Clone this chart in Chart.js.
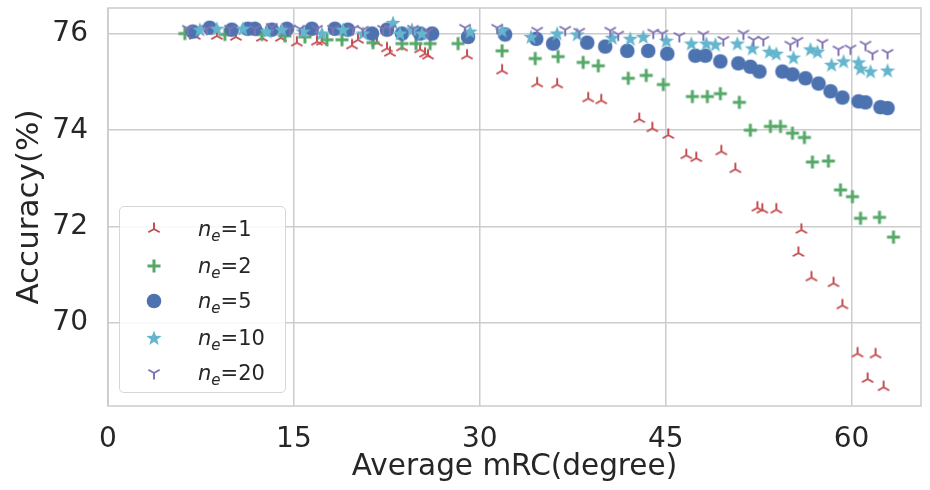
<!DOCTYPE html>
<html>
<head>
<meta charset="utf-8">
<script src="https://cdn.jsdelivr.net/npm/chart.js@4.4.0/dist/chart.umd.min.js"></script>
<style>
    html, body { margin: 0; padding: 0; background: #fff; }
    #wrap { position: relative; width: 930px; height: 490px; }
    #legend {
        position: absolute; left: 119px; top: 206px; width: 165px; height: 185px;
        border: 1px solid #d6d6d6; border-radius: 5px; background: rgba(255, 255, 255, 0.85);
        font-family: "DejaVu Sans", sans-serif; font-size: 21px; color: #262626;
    }
    .row { position: absolute; left: 0; height: 30px; width: 165px; }
    .row canvas { position: absolute; left: 24px; top: 5px; }
    .row span { position: absolute; left: 78px; top: 2px; line-height: 26px; white-space: nowrap; }
    .row sub { font-style: italic; font-size: 15px; vertical-align: -5px; line-height: 0; }
</style>
</head>
<body>
<div id="wrap">
    <canvas id="mrcChart" width="930" height="490"></canvas>
    <div id="legend"></div>
</div>
<script>
// ensemble sizes shown in the legend
const neValues = [1, 2, 5, 10, 20];

// n_e = 1
const mrcNe1 = [7.00, 8.78, 10.32, 12.42, 13.95, 15.24, 16.86, 17.26, 19.69, 20.17, 21.70, 22.51, 22.75, 23.72,
    25.18, 25.58, 25.82, 28.97, 31.80, 34.63, 36.24, 38.75, 39.80, 42.87, 43.92, 45.21, 46.66, 47.47, 49.49,
    50.62, 52.40, 52.80, 53.93, 55.95, 55.71, 56.76, 58.54, 59.26, 60.48, 61.93, 61.29, 62.58];
const accNe1 = [75.96, 75.96, 75.94, 75.92, 75.92, 75.82, 75.84, 75.84, 75.76, 75.88, 75.82, 75.70, 75.61, 75.72,
    75.68, 75.59, 75.55, 75.55, 75.24, 74.97, 74.95, 74.66, 74.62, 74.23, 74.04, 73.90, 73.48, 73.42, 73.56,
    73.19, 72.39, 72.35, 72.35, 71.93, 71.45, 70.94, 70.82, 70.36, 69.36, 69.34, 68.83, 68.66];

// n_e = 2
const mrcNe2 = [6.20, 9.43, 12.42, 14.27, 15.89, 17.67, 18.88, 21.38, 23.72, 24.85, 25.99, 28.25, 31.80, 34.47,
    36.32, 38.34, 39.56, 41.98, 43.43, 44.81, 47.15, 48.36, 49.41, 50.94, 51.83, 53.45, 54.26, 55.23, 56.19,
    56.84, 58.13, 59.10, 60.07, 60.72, 62.25, 63.38];
const accNe2 = [76.01, 75.99, 75.99, 75.96, 75.94, 75.88, 75.88, 75.82, 75.80, 75.80, 75.80, 75.80, 75.65, 75.49,
    75.53, 75.41, 75.34, 75.08, 75.14, 74.95, 74.70, 74.70, 74.76, 74.58, 74.00, 74.08, 74.08, 73.94, 73.85,
    73.34, 73.36, 72.76, 72.62, 72.17, 72.19, 71.78];

// n_e = 5
const mrcNe5 = [6.84, 8.21, 9.99, 11.28, 11.85, 13.22, 14.43, 16.45, 18.31, 19.36, 21.30, 22.51, 23.72, 25.18,
    26.15, 29.05, 32.04, 34.55, 35.92, 38.67, 40.12, 41.90, 43.59, 45.13, 47.39, 48.20, 49.41, 50.86, 51.83,
    52.56, 54.42, 55.23, 56.28, 57.33, 58.30, 59.26, 60.56, 61.12, 62.33, 62.90];
const accNe5 = [76.05, 76.13, 76.09, 76.11, 76.11, 76.09, 76.11, 76.11, 76.11, 76.09, 76.01, 76.09, 76.01, 76.01,
    76.01, 75.94, 75.99, 75.90, 75.80, 75.82, 75.74, 75.65, 75.65, 75.59, 75.55, 75.55, 75.43, 75.39, 75.32,
    75.22, 75.22, 75.16, 75.08, 74.97, 74.81, 74.68, 74.60, 74.58, 74.48, 74.46];

// n_e = 10
const mrcNe10 = [7.41, 8.78, 10.88, 12.82, 14.03, 15.73, 17.26, 18.96, 20.57, 23.00, 23.56, 24.53, 25.34, 29.22,
    31.80, 34.14, 36.24, 37.86, 40.69, 42.14, 43.19, 45.05, 47.07, 48.28, 49.01, 50.78, 51.99, 53.37, 53.93,
    55.31, 56.68, 57.25, 58.38, 59.35, 60.56, 60.72, 61.53, 62.90];
const accNe10 = [76.09, 76.11, 76.11, 76.05, 76.09, 76.05, 76.01, 76.09, 76.01, 76.23, 76.01, 76.09, 76.01, 76.05,
    76.07, 75.94, 76.01, 75.99, 75.92, 75.90, 75.94, 75.86, 75.80, 75.80, 75.78, 75.80, 75.70, 75.63, 75.59,
    75.51, 75.68, 75.63, 75.36, 75.43, 75.41, 75.28, 75.22, 75.24];

// n_e = 20
const mrcNe20 = [6.44, 7.97, 9.83, 11.85, 13.22, 14.68, 15.48, 16.86, 18.15, 19.77, 20.57, 22.19, 22.75, 24.61,
    25.82, 28.81, 31.40, 34.63, 36.89, 38.02, 40.53, 41.17, 44.00, 44.73, 46.10, 48.04, 49.65, 51.27, 52.08,
    52.88, 55.06, 55.63, 57.65, 58.94, 59.91, 61.12, 61.69, 62.90];
const accNe20 = [76.11, 76.11, 76.11, 76.11, 76.15, 76.11, 76.11, 76.11, 76.11, 76.11, 76.09, 76.11, 76.11, 76.11,
    76.05, 76.13, 76.13, 76.07, 76.09, 76.05, 76.07, 75.99, 76.03, 76.01, 75.96, 75.99, 75.88, 76.01, 75.88,
    75.88, 75.78, 75.86, 75.82, 75.68, 75.70, 75.78, 75.59, 75.61];

const xTicks = [0, 15, 30, 45, 60];
const yTicks = [70, 72, 74, 76];

const FONT = '"DejaVu Sans", sans-serif';
const TEXT = '#262626';
const GRID = '#cccccc';

// small canvases used as point styles (matplotlib-like markers)
function makeMarker(kind, color) {
    const c = document.createElement('canvas');
    c.width = 20; c.height = 20;
    const g = c.getContext('2d');
    const m = 10;
    g.strokeStyle = color;
    g.fillStyle = color;
    if (kind === 'tri_up' || kind === 'tri_down') {
        const r = 6.5;
        const d = kind === 'tri_up' ? -1 : 1;
        g.lineWidth = 2;
        g.beginPath();
        g.moveTo(m, m); g.lineTo(m, m + d * r);
        g.moveTo(m, m); g.lineTo(m - 0.866 * r, m - d * 0.5 * r);
        g.moveTo(m, m); g.lineTo(m + 0.866 * r, m - d * 0.5 * r);
        g.stroke();
    } else if (kind === 'plus') {
        g.lineWidth = 3;
        g.beginPath();
        g.moveTo(m - 6.5, m); g.lineTo(m + 6.5, m);
        g.moveTo(m, m - 6.5); g.lineTo(m, m + 6.5);
        g.stroke();
    } else if (kind === 'circle') {
        g.beginPath();
        g.arc(m, m, 7.3, 0, Math.PI * 2);
        g.fill();
    } else if (kind === 'star') {
        g.beginPath();
        for (let i = 0; i < 10; i++) {
            const r = i % 2 === 0 ? 8 : 3.3;
            const a = -Math.PI / 2 + i * Math.PI / 5;
            const px = m + r * Math.cos(a), py = m + 0.5 + r * Math.sin(a);
            if (i === 0) g.moveTo(px, py); else g.lineTo(px, py);
        }
        g.closePath();
        g.fill();
    }
    return c;
}

function toPoints(xs, ys) {
    return xs.map((x, i) => ({ x: x, y: ys[i] }));
}

const seriesDefs = [
    { ne: neValues[0], xs: mrcNe1, ys: accNe1, kind: 'tri_up', color: '#c44e52', order: 5 },
    { ne: neValues[1], xs: mrcNe2, ys: accNe2, kind: 'plus', color: '#55a868', order: 4 },
    { ne: neValues[2], xs: mrcNe5, ys: accNe5, kind: 'circle', color: '#4c72b0', order: 3 },
    { ne: neValues[3], xs: mrcNe10, ys: accNe10, kind: 'star', color: '#64b5cd', order: 2 },
    { ne: neValues[4], xs: mrcNe20, ys: accNe20, kind: 'tri_down', color: '#8172b2', order: 1 }
];

seriesDefs.forEach(s => { s.marker = makeMarker(s.kind, s.color); });

// light frame around the plotting area (seaborn whitegrid spines)
const framePlugin = {
    id: 'frame',
    beforeDatasetsDraw(chart) {
        const a = chart.chartArea;
        const ctx = chart.ctx;
        ctx.save();
        ctx.strokeStyle = GRID;
        ctx.lineWidth = 1.5;
        ctx.strokeRect(a.left, a.top, a.right - a.left, a.bottom - a.top);
        ctx.restore();
    }
};

const ctx = document.getElementById('mrcChart').getContext('2d');
window.mrcChart = new Chart(ctx, {
    type: 'scatter',
    data: {
        datasets: seriesDefs.map(s => ({
            label: 'n_e=' + s.ne,
            data: toPoints(s.xs, s.ys),
            pointStyle: s.marker,
            pointRadius: 7,
            borderColor: s.color,
            backgroundColor: s.color,
            order: s.order
        }))
    },
    options: {
        responsive: false,
        animation: false,
        layout: { padding: { top: 6, right: 9, bottom: 0, left: 0 } },
        plugins: {
            legend: { display: false },
            tooltip: { enabled: false }
        },
        scales: {
            x: {
                type: 'linear',
                min: 0,
                max: 65.6,
                afterBuildTicks: scale => { scale.ticks = xTicks.map(v => ({ value: v })); },
                afterFit: scale => {
                    scale.height = 84;
                    scale.paddingLeft = 0;
                    scale.paddingRight = 0;
                },
                ticks: { font: { family: FONT, size: 28 }, color: TEXT, padding: 17, maxRotation: 0, autoSkip: false },
                grid: { color: GRID, lineWidth: 1.5, drawTicks: false },
                border: { display: false },
                title: {
                    display: true,
                    text: 'Average mRC(degree)',
                    font: { family: FONT, size: 29.5 },
                    color: TEXT,
                    padding: { top: 0, bottom: 5 }
                }
            },
            y: {
                type: 'linear',
                min: 68.27,
                max: 76.54,
                afterBuildTicks: scale => { scale.ticks = yTicks.map(v => ({ value: v })); },
                afterFit: scale => {
                    scale.width = 108;
                    scale.paddingTop = 0;
                    scale.paddingBottom = 0;
                },
                ticks: { font: { family: FONT, size: 28 }, color: TEXT, padding: 20 },
                grid: { color: GRID, lineWidth: 1.5, drawTicks: false },
                border: { display: false },
                title: {
                    display: true,
                    text: 'Accuracy(%)',
                    font: { family: FONT, size: 31 },
                    color: TEXT,
                    padding: { top: 11, bottom: 0 }
                }
            }
        }
    },
    plugins: [framePlugin]
});

// html legend so the subscript can be real text
const legendEl = document.getElementById('legend');
const rowTops = [7, 44, 79, 116, 151];
seriesDefs.forEach((s, i) => {
    const row = document.createElement('div');
    row.className = 'row';
    row.style.top = rowTops[i] + 'px';
    const icon = makeMarker(s.kind, s.color);
    row.appendChild(icon);
    const label = document.createElement('span');
    label.innerHTML = '<i>n</i><sub>e</sub>=' + s.ne;
    row.appendChild(label);
    legendEl.appendChild(row);
});
</script>
</body>
</html>
